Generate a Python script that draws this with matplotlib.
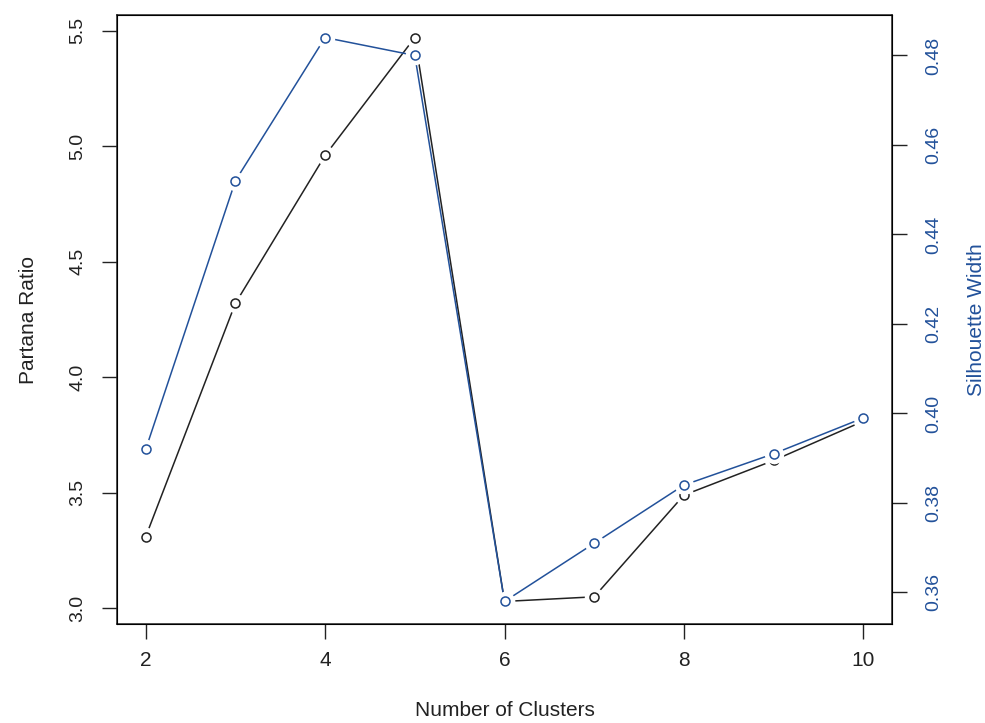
import matplotlib
matplotlib.use("Agg")
import matplotlib.pyplot as plt
import numpy as np

plt.rcParams['font.family'] = ['Liberation Sans', 'DejaVu Sans']

# values
clusters = [2, 3, 4, 5, 6, 7, 8, 9, 10]
partana = [3.31, 4.32, 4.96, 5.47, 3.03, 3.05, 3.49, 3.64, 3.81]
silhouette = [0.392, 0.452, 0.484, 0.480, 0.358, 0.371, 0.384, 0.391, 0.399]

x_ticks = [2, 4, 6, 8, 10]
left_ticks = [3.0, 3.5, 4.0, 4.5, 5.0, 5.5]
right_ticks = [0.36, 0.38, 0.40, 0.42, 0.44, 0.46, 0.48]

ink = '#222222'
blue = '#22519a'


def r_lim(v):
    # R style 4% padding
    lo, hi = min(v), max(v)
    d = (hi - lo) * 0.04
    return lo - d, hi + d


def draw_b(ax, x, y, col):
    # mimic type="b": line with gaps around the open circles
    ax.plot(x, y, color=col, lw=1.1, zorder=2)
    ax.plot(x, y, ls='none', marker='o', ms=14, mfc='white', mec='none', zorder=3)
    ax.plot(x, y, ls='none', marker='o', ms=6.5, mfc='white', mec=col, mew=1.1, zorder=4)


fig = plt.figure(figsize=(9.85, 7.23), dpi=100)
ax = fig.add_axes([117 / 985, 1 - 624 / 723, 775 / 985, 609 / 723])

draw_b(ax, clusters, partana, ink)
ax.set_xlim(r_lim(clusters))
ax.set_ylim(r_lim(partana))
ax.set_xticks(x_ticks)
ax.set_yticks(left_ticks)
ax.set_yticklabels(['%.1f' % t for t in left_ticks], rotation=90, va='center')
ax.tick_params(axis='both', direction='out', length=11, width=1, colors=ink)
ax.tick_params(axis='x', pad=8.5, labelsize=15)
ax.tick_params(axis='y', pad=11, labelsize=14)
for s in ax.spines.values():
    s.set_color(ink)
    s.set_linewidth(1.1)
ax.set_xlabel('Number of Clusters', fontsize=15, color=ink, labelpad=22)
ax.set_ylabel('Partana Ratio', fontsize=15, color=ink, labelpad=23)

ax2 = ax.twinx()
draw_b(ax2, clusters, silhouette, blue)
ax2.set_ylim(r_lim(silhouette))
ax2.set_yticks(right_ticks)
ax2.set_yticklabels(['%.2f' % t for t in right_ticks], rotation=90, va='center')
ax2.tick_params(axis='y', direction='out', length=11, width=1, colors=ink,
                labelcolor=blue, labelsize=14, pad=13)
ax2.set_ylabel('Silhouette Width', fontsize=15, color=blue, labelpad=18)

fig.savefig('out.png', dpi=100)
